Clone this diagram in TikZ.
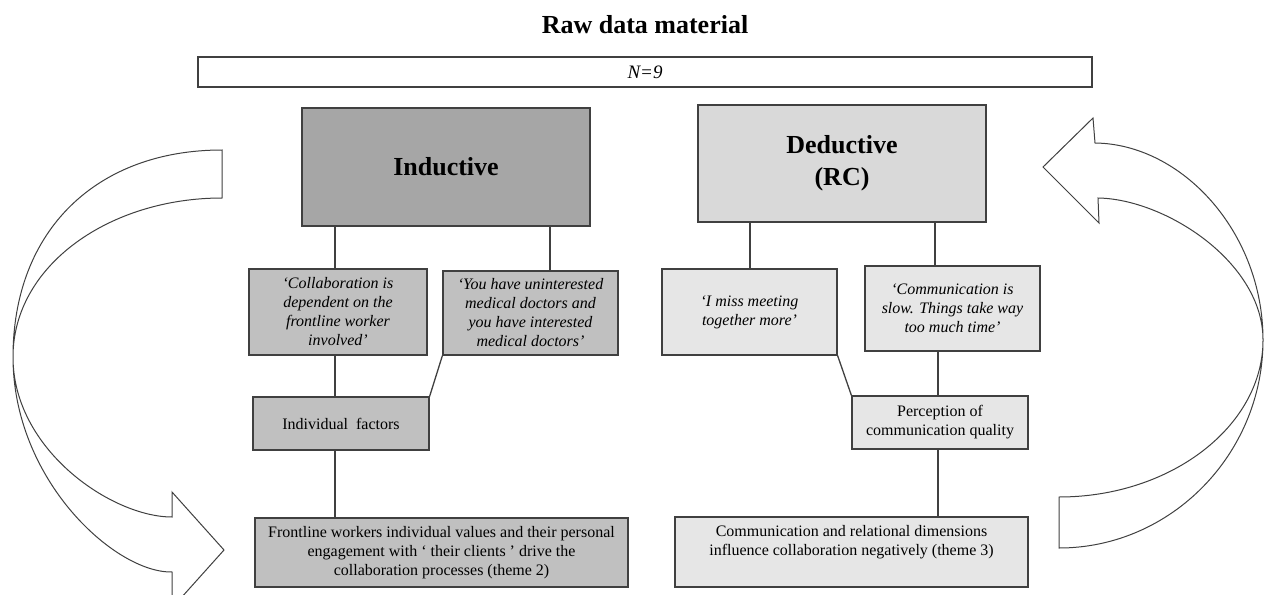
\documentclass[tikz,border=0pt]{standalone}
\usepackage{fontspec}
\setmainfont{Liberation Serif}
\usepackage{xcolor}
\usepackage{tikz}
\usetikzlibrary{shapes,arrows,positioning,fit,calc}

\definecolor{inddark}{HTML}{A6A6A6}
\definecolor{indlight}{HTML}{C0C0C0}
\definecolor{deddark}{HTML}{D9D9D9}
\definecolor{dedlight}{HTML}{E6E6E6}
\definecolor{boxline}{HTML}{404040}

\begin{document}
\begin{tikzpicture}[x=1pt, y=-1pt,
    every node/.style = {draw=boxline, line width=1.2pt, align=center, inner sep=2pt,
      font=\fontsize{16}{19}\selectfont},
    head/.style = {minimum width=288pt, font=\fontsize{26}{32}\selectfont\bfseries},
    quote/.style = {minimum width=175pt, font=\fontsize{16}{19}\selectfont\itshape},
    curvearrow/.style = {draw=boxline, line width=1pt, fill=white},
    link/.style = {draw=boxline, line width=1.3pt}
  ]
  \useasboundingbox (0,0) rectangle (1268,594);
  \clip (0,0) rectangle (1268,594);

  % curved arrows
  \path[curvearrow] (222,150) .. controls (97,150) and (13,230) .. (13,357)
    .. controls (13,480) and (115,573) .. (172,572)
    -- (172,608) -- (224,550) -- (172,492) -- (172,517)
    .. controls (112,517) and (13,450) .. (13,357)
    .. controls (13,265) and (110,198) .. (222,198) -- cycle;
  \path[curvearrow] (1059,497) .. controls (1171,497) and (1263,426) .. (1263,340)
    .. controls (1263,262) and (1165,199) .. (1098,198)
    -- (1099,223) -- (1043,167) -- (1093,118) -- (1095,143)
    .. controls (1182,144) and (1263,232) .. (1263,340)
    .. controls (1263,454) and (1171,548) .. (1059,548) -- cycle;

  % top
  \node[draw=none, font=\fontsize{26}{30}\selectfont\bfseries] (title) at (645,25) {Raw data material};
  \node[minimum width=894pt, minimum height=30pt, font=\fontsize{19}{21}\selectfont\itshape] (raw) at (645,72) {N=9};

  % inductive side
  \node[head, fill=inddark, minimum height=118pt] (ind) at (446,167) {Inductive};
  \node[quote, fill=indlight, minimum width=178pt, minimum height=86pt] (q1) at (338,312)
    {‘Collaboration is\\ dependent on the\\ frontline worker\\ involved’};
  \node[quote, fill=indlight, minimum height=84pt] (q2) at (530.5,313)
    {‘You have uninterested\\ medical doctors and\\ you have interested\\ medical doctors’};
  \node[fill=indlight, minimum width=176pt, minimum height=53pt] (indiv) at (341,423.5) {Individual\ \ factors};
  \node[fill=indlight, minimum width=373pt, minimum height=69pt] (front) at (441.5,552.5)
    {Frontline workers individual values and their personal\\ engagement with ‘ their clients ’ drive the\\ collaboration processes (theme 2)};

  % deductive side
  \node[head, fill=deddark, minimum height=117pt] (ded) at (842,163.5) {Deductive\\ (RC)};
  \node[quote, fill=dedlight, minimum height=86pt] (q3) at (749.5,312)
    {‘I miss meeting\\ together more’};
  \node[quote, fill=dedlight, minimum height=85pt] (q4) at (952.5,308.5)
    {‘Communication is\\ slow. Things take way\\ too much time’};
  \node[fill=dedlight, minimum width=176pt, minimum height=53pt] (perc) at (940,422.5)
    {Perception of\\ communication quality};
  \node[fill=dedlight, minimum width=353pt, minimum height=70pt] (comm) at (851.5,552)
    {\parbox[c][53pt][t]{345pt}{\centering Communication and relational dimensions\\ influence collaboration negatively (theme 3)}};

  % connectors
  \draw[link] ([xshift=-3pt]q1.north) -- ([xshift=-3pt]q1.north |- ind.south);
  \draw[link] ([xshift=19.5pt]q2.north) -- ([xshift=19.5pt]q2.north |- ind.south);
  \draw[link] ([xshift=-3pt]q1.south) -- ([xshift=-3pt]q1.south |- indiv.north);
  \draw[link] (q2.south west) -- (indiv.north east);
  \draw[link] ([xshift=-6pt]indiv.south) -- ([xshift=-6pt]indiv.south |- front.north);
  \draw[link] ([xshift=0.5pt]q3.north) -- ([xshift=0.5pt]q3.north |- ded.south);
  \draw[link] ([xshift=-17.5pt]q4.north) -- ([xshift=-17.5pt]q4.north |- ded.south);
  \draw[link] (q3.south east) -- (perc.north west);
  \draw[link] ([xshift=-2pt]perc.north) -- ([xshift=-2pt]perc.north |- q4.south);
  \draw[link] ([xshift=-2pt]perc.south) -- ([xshift=-2pt]perc.south |- comm.north);
\end{tikzpicture}
\end{document}
